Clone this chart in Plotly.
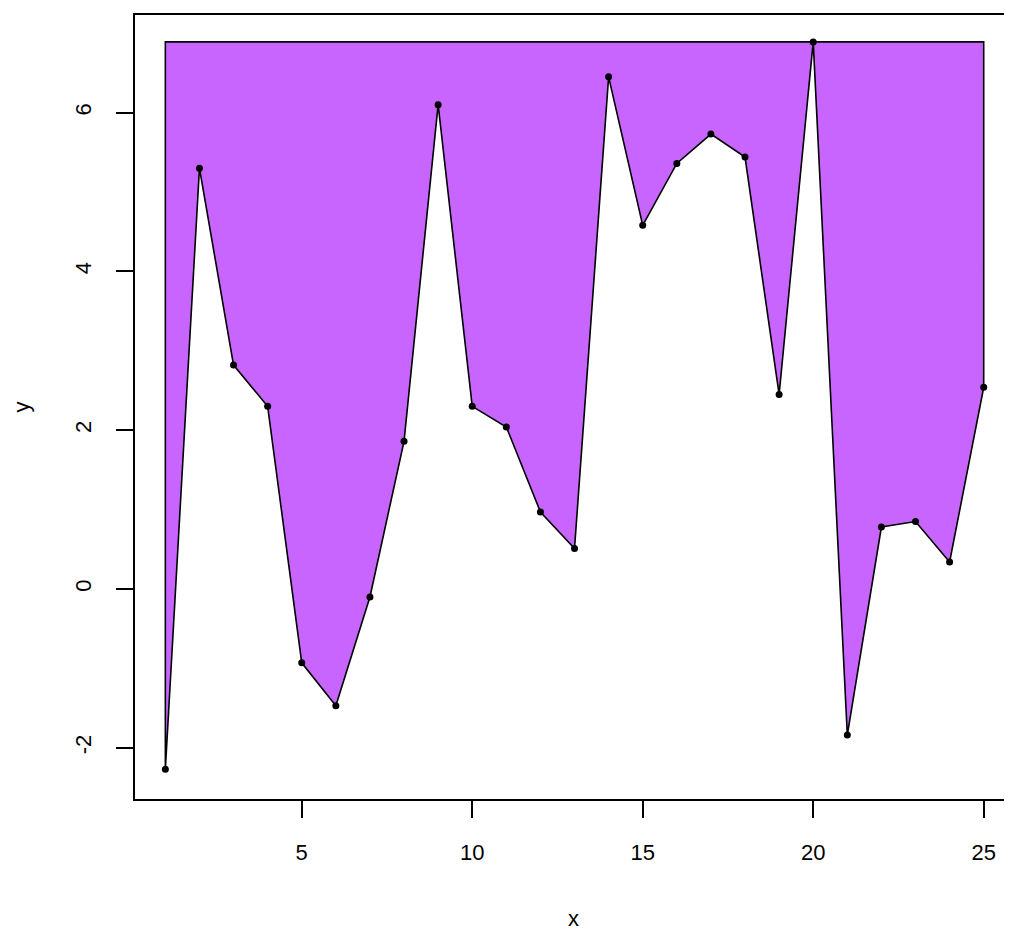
import plotly.graph_objects as go

x_vals = list(range(1, 26))
y_vals = [-2.27, 5.30, 2.82, 2.30, -0.93, -1.47, -0.10, 1.86, 6.10, 2.30,
          2.04, 0.97, 0.51, 6.45, 4.58, 5.36, 5.73, 5.44, 2.45, 6.89,
          -1.84, 0.78, 0.85, 0.34, 2.54]
x_ticks = [5, 10, 15, 20, 25]
y_ticks = [-2, 0, 2, 4, 6]
y_tick_labels = ["-2", "0", "2", "4", "6"]

y_top = max(y_vals)
poly_x = x_vals + [x_vals[-1], x_vals[0], x_vals[0]]
poly_y = y_vals + [y_top, y_top, y_vals[0]]

fig = go.Figure()
fig.add_trace(go.Scatter(
    x=poly_x, y=poly_y, mode="lines", fill="toself",
    fillcolor="#C865FF", line=dict(color="black", width=1.6),
    hoverinfo="skip", showlegend=False))
fig.add_trace(go.Scatter(
    x=x_vals, y=y_vals, mode="markers",
    marker=dict(color="black", size=7), showlegend=False, cliponaxis=False))

font = dict(family="Liberation Sans, Arial, sans-serif", size=22, color="black")
fig.update_layout(
    width=1004, height=924,
    margin=dict(l=127, r=0, t=7, b=133),
    paper_bgcolor="white", plot_bgcolor="white",
    font=font,
    xaxis=dict(range=[0.11, 25.83], tickvals=x_ticks, ticks="outside", ticklen=17,
               tickwidth=1.6, tickcolor="black", showline=True, linecolor="black",
               linewidth=1.6, mirror=True, showgrid=False, zeroline=False,
               ticklabelstandoff=16,
               title=dict(text="x", standoff=46, font=font)),
    yaxis=dict(range=[-2.645, 7.229], tickvals=y_ticks, ticktext=y_tick_labels,
               ticks="outside", ticklen=17,
               tickwidth=1.6, tickcolor="black", showline=True, linecolor="black",
               linewidth=1.6, mirror=False, showgrid=False, zeroline=False,
               tickangle=-90, ticklabelstandoff=16,
               title=dict(text="y", standoff=36, font=font)),
)
fig.write_html("out.html")
